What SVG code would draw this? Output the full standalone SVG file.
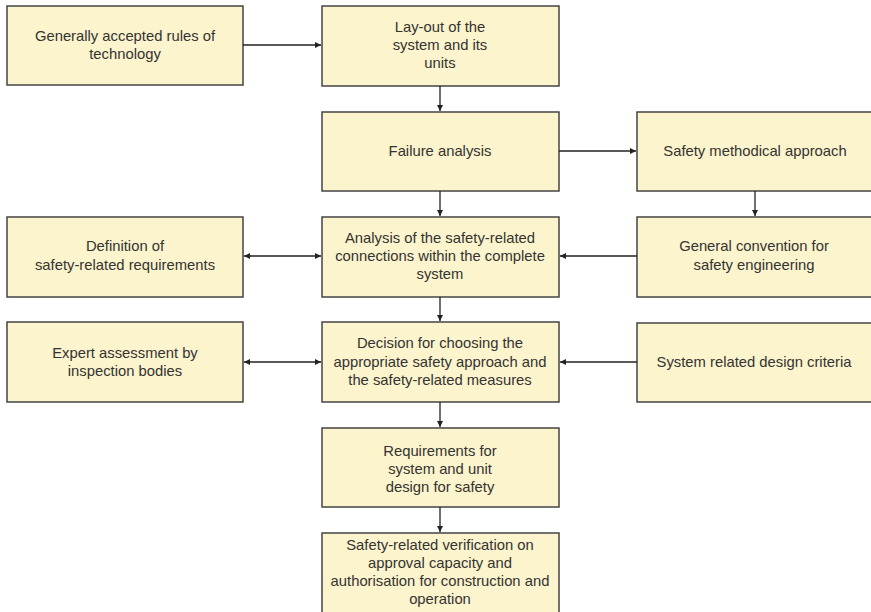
<svg xmlns="http://www.w3.org/2000/svg" width="871" height="612" viewBox="0 0 871 612">
<defs>
<marker id="ah" viewBox="0 0 10 10" refX="10" refY="5" markerWidth="8" markerHeight="6" markerUnits="userSpaceOnUse" orient="auto-start-reverse">
<path d="M0,0 L10,5 L0,10 Z" fill="#222"/>
</marker>
</defs>
<style>
rect{fill:#fcf4cc;stroke:#444;stroke-width:1.5}
text{font-family:"Liberation Sans",Arial,sans-serif;font-size:14.8px;fill:#333;text-anchor:middle}
.c line{stroke:#222;stroke-width:1.3;marker-end:url(#ah)}
.c line.d{marker-start:url(#ah)}
</style>
<rect x="0" y="0" width="871" height="612" style="fill:#fff;stroke:none"/>
<g id="n1"><rect x="7" y="6" width="236" height="79"/><text x="125" y="41">Generally accepted rules of</text><text x="125" y="59">technology</text></g>
<g id="n2"><rect x="322" y="6" width="237" height="80"/><text x="440" y="32">Lay-out of the</text><text x="440" y="50">system and its</text><text x="440" y="68">units</text></g>
<g id="n3"><rect x="322" y="112" width="237" height="79"/><text x="440" y="156">Failure analysis</text></g>
<g id="n4"><rect x="637" y="112" width="240" height="79"/><text x="755" y="156">Safety methodical approach</text></g>
<g id="n5"><rect x="7" y="217" width="236" height="80"/><text x="125" y="251">Definition of</text><text x="125" y="270">safety-related requirements</text></g>
<g id="n6"><rect x="322" y="217" width="237" height="80"/><text x="440" y="243">Analysis of the safety-related</text><text x="440" y="261">connections within the complete</text><text x="440" y="279">system</text></g>
<g id="n7"><rect x="637" y="217" width="240" height="80"/><text x="754" y="251">General convention for</text><text x="754" y="270">safety engineering</text></g>
<g id="n8"><rect x="7" y="322" width="236" height="80"/><text x="125" y="358">Expert assessment by</text><text x="125" y="376">inspection bodies</text></g>
<g id="n9"><rect x="322" y="322" width="237" height="80"/><text x="440" y="348">Decision for choosing the</text><text x="440" y="367">appropriate safety approach and</text><text x="440" y="385">the safety-related measures</text></g>
<g id="n10"><rect x="637" y="323" width="240" height="79"/><text x="754" y="367">System related design criteria</text></g>
<g id="n11"><rect x="322" y="428" width="237" height="79"/><text x="440" y="456">Requirements for</text><text x="440" y="474">system and unit</text><text x="440" y="492">design for safety</text></g>
<g id="n12"><rect x="322" y="533" width="237" height="90"/><text x="440" y="550">Safety-related verification on</text><text x="440" y="568">approval capacity and</text><text x="440" y="586">authorisation for construction and</text><text x="440" y="604">operation</text></g>
<g class="c" id="connectors">
<line x1="243" y1="45" x2="321" y2="45"/>
<line x1="440" y1="86" x2="440" y2="111"/>
<line x1="559" y1="151" x2="636" y2="151"/>
<line x1="755" y1="191" x2="755" y2="216"/>
<line x1="440" y1="191" x2="440" y2="216"/>
<line class="d" x1="244" y1="256" x2="321" y2="256"/>
<line x1="637" y1="256" x2="560" y2="256"/>
<line x1="440" y1="297" x2="440" y2="321"/>
<line class="d" x1="244" y1="362" x2="321" y2="362"/>
<line x1="637" y1="362" x2="560" y2="362"/>
<line x1="440" y1="402" x2="440" y2="427"/>
<line x1="440" y1="507" x2="440" y2="532"/>
</g>
</svg>
